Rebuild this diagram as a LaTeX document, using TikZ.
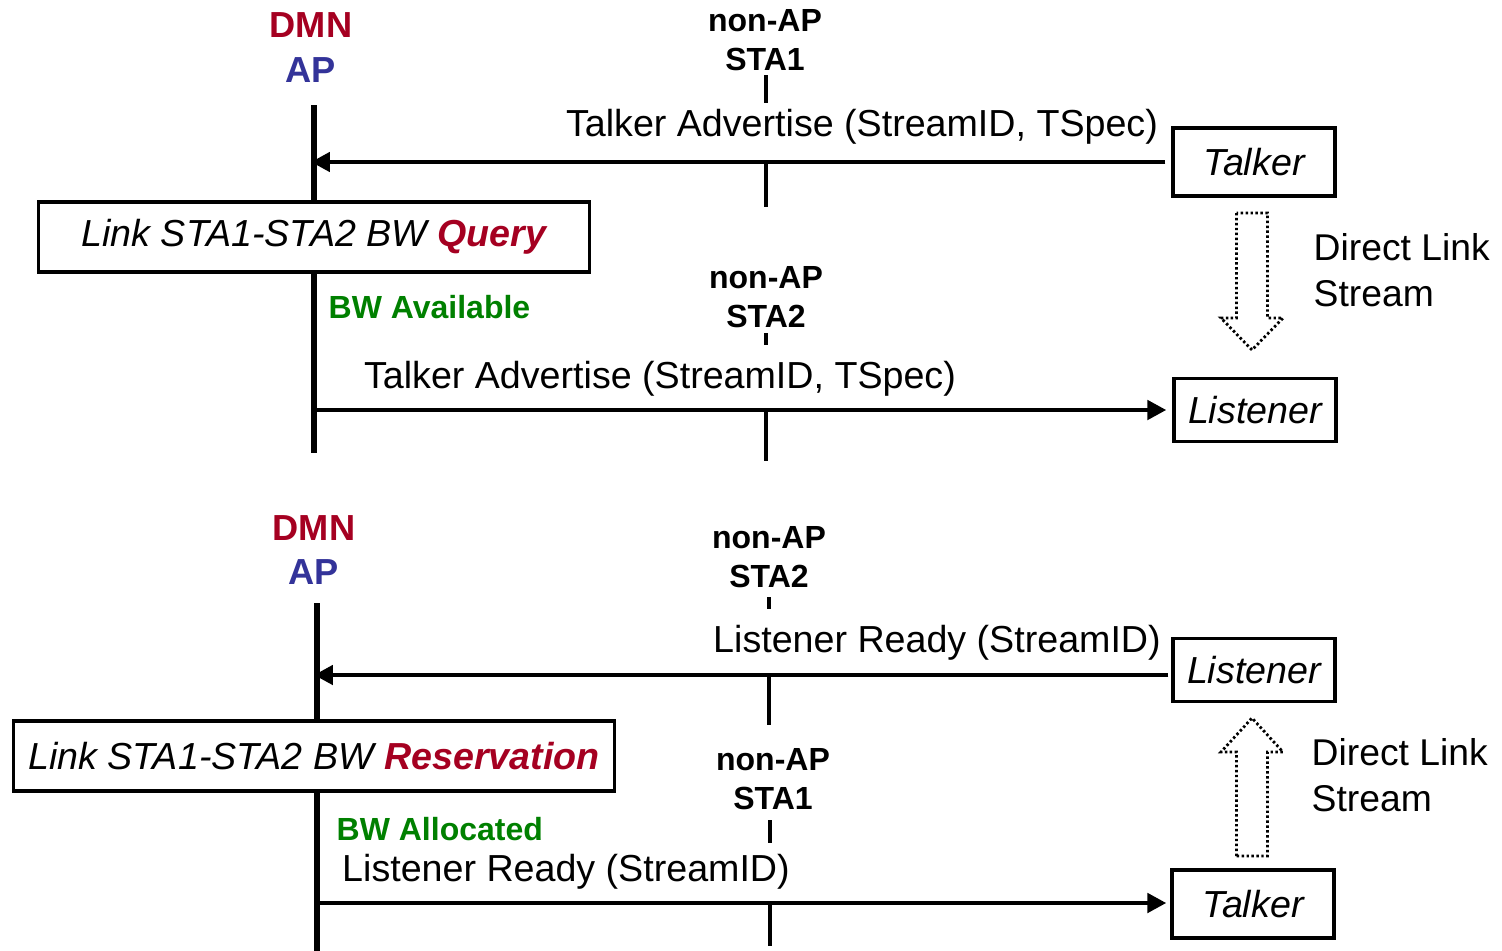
\documentclass[tikz,border=0pt]{standalone}
\usepackage{fontspec}
\setmainfont{Liberation Sans}
\usetikzlibrary{arrows.meta, positioning}
\definecolor{dmnred}{HTML}{A50021}
\definecolor{apblue}{HTML}{333399}
\definecolor{bwgreen}{HTML}{008000}

\begin{document}
\begin{tikzpicture}[
  x=0.01cm, y=-0.01cm,
  every node/.style={font=\fontsize{10.7}{12.8}\selectfont},
  role/.style={font=\fontsize{10.3}{12}\selectfont\bfseries, inner sep=0pt},
  sta/.style={font=\fontsize{9.1}{11}\selectfont\bfseries, align=center, inner sep=0pt},
  life/.style={line width=1.7pt},
  tick/.style={line width=1.4pt},
  msg/.style={-{Triangle[length=5.4pt, width=5.4pt]}, line width=1.4pt},
  msgtext/.style={inner sep=0pt},
  endpt/.style={draw, line width=0.9pt, fill=white, minimum width=1.62cm, font=\fontsize{10.7}{12.8}\selectfont\itshape},
  linkbox/.style={draw, line width=0.9pt, fill=white, minimum height=0.70cm, font=\fontsize{10.7}{12.8}\selectfont\itshape},
  bwnote/.style={font=\fontsize{9.1}{11}\selectfont\bfseries, text=bwgreen, anchor=west, inner sep=0pt},
  dlstream/.style={line width=0.8pt, dash pattern=on 0.7pt off 0.7pt, line join=miter},
  dltext/.style={align=left, anchor=west, inner sep=0pt, font=\fontsize{10.6}{13}\selectfont}
]
  \useasboundingbox (0,0) rectangle (1502,951);

  % upper exchange: talker advertise
  \node[role, text=dmnred] (dmn1) at (311,25) {DMN};
  \node[role, text=apblue] (ap1) at (311,70) {AP};
  \coordinate (ap1top) at (314,105);
  \coordinate (ap1bot) at (314,453);
  \draw[life] (ap1top) -- (ap1bot);

  \node[sta] (sta1a) at (765,40) {non-AP\\STA1};
  \coordinate (sta1atick) at (766,75);
  \coordinate (sta1aline) at (766,162);
  \draw[tick] (sta1atick) -- ++(0,28);
  \draw[tick] (sta1aline) -- ++(0,45);

  \node[endpt, minimum height=0.68cm] (talker1) at (1254,162) {Talker};
  \node[msgtext] (adv1) at (862,127) {Talker Advertise (StreamID, TSpec)};
  \draw[msg, shorten <=0.06cm, shorten >=-0.03cm] (talker1.west) -- (talker1.west -| ap1top);

  \node[linkbox, minimum width=5.5cm] (query) at (314,237) {Link STA1-STA2 BW \textcolor{dmnred}{\bfseries Query}};
  \node[bwnote] (bwav) at (328,307) {BW Available};

  % dotted block arrow, pointing down
  \coordinate (dl1) at (1252,213);
  \draw[dlstream] (dl1) +(-15.5,0) -- +(-15.5,105) -- +(-31,105) -- +(0,137)
    -- +(31,105) -- +(15.5,105) -- +(15.5,0) -- cycle;
  \node[dltext] (dltxt1) at (1313,270) {Direct Link\\Stream};

  \node[sta] (sta2a) at (766,297) {non-AP\\STA2};
  \coordinate (sta2atick) at (766,333);
  \coordinate (sta2aline) at (766,410);
  \draw[tick] (sta2atick) -- ++(0,12);
  \draw[tick] (sta2aline) -- ++(0,51);

  \node[endpt, minimum height=0.63cm] (listener1) at (1255,410) {Listener};
  \node[msgtext] (adv2) at (660,379) {Talker Advertise (StreamID, TSpec)};
  \draw[msg, shorten <=-0.03cm, shorten >=0.06cm] (ap1top |- listener1.west) -- (listener1.west);

  % lower exchange: listener ready
  \node[role, text=dmnred] (dmn2) at (314,528) {DMN};
  \node[role, text=apblue] (ap2) at (314,572) {AP};
  \coordinate (ap2top) at (317,603);
  \coordinate (ap2bot) at (317,951);
  \draw[life] (ap2top) -- (ap2bot);

  \node[sta] (sta2b) at (769,557) {non-AP\\STA2};
  \coordinate (sta2btick) at (769,597);
  \coordinate (sta2bline) at (769,675);
  \draw[tick] (sta2btick) -- ++(0,12);
  \draw[tick] (sta2bline) -- ++(0,50);

  \node[endpt, minimum height=0.63cm] (listener2) at (1254,670) {Listener};
  \node[msgtext] (ready1) at (937,643) {Listener Ready (StreamID)};
  \draw[msg, shorten <=0.03cm, shorten >=-0.03cm] (listener2.west |- sta2bline) -- (ap2top |- sta2bline);

  \node[linkbox, minimum width=6.0cm] (reserve) at (314,756) {Link STA1-STA2 BW \textcolor{dmnred}{\bfseries Reservation}};
  \node[bwnote] (bwal) at (336,829) {BW Allocated};

  % dotted block arrow, pointing up
  \coordinate (dl2) at (1252,856);
  \draw[dlstream] (dl2) +(-15.5,0) -- +(-15.5,-104) -- +(-31,-104) -- +(0,-138)
    -- +(31,-104) -- +(15.5,-104) -- +(15.5,0) -- cycle;
  \node[dltext] (dltxt2) at (1311,775) {Direct Link\\Stream};

  \node[sta] (sta1b) at (773,779) {non-AP\\STA1};
  \coordinate (sta1btick) at (770,820);
  \coordinate (sta1bline) at (770,903);
  \draw[tick] (sta1btick) -- ++(0,23);
  \draw[tick] (sta1bline) -- ++(0,43);

  \node[endpt, minimum height=0.68cm] (talker2) at (1253,904) {Talker};
  \node[msgtext] (ready2) at (566,872) {Listener Ready (StreamID)};
  \draw[msg, shorten <=-0.03cm, shorten >=0.04cm] (ap2top |- sta1bline) -- (talker2.west |- sta1bline);
\end{tikzpicture}
\end{document}
